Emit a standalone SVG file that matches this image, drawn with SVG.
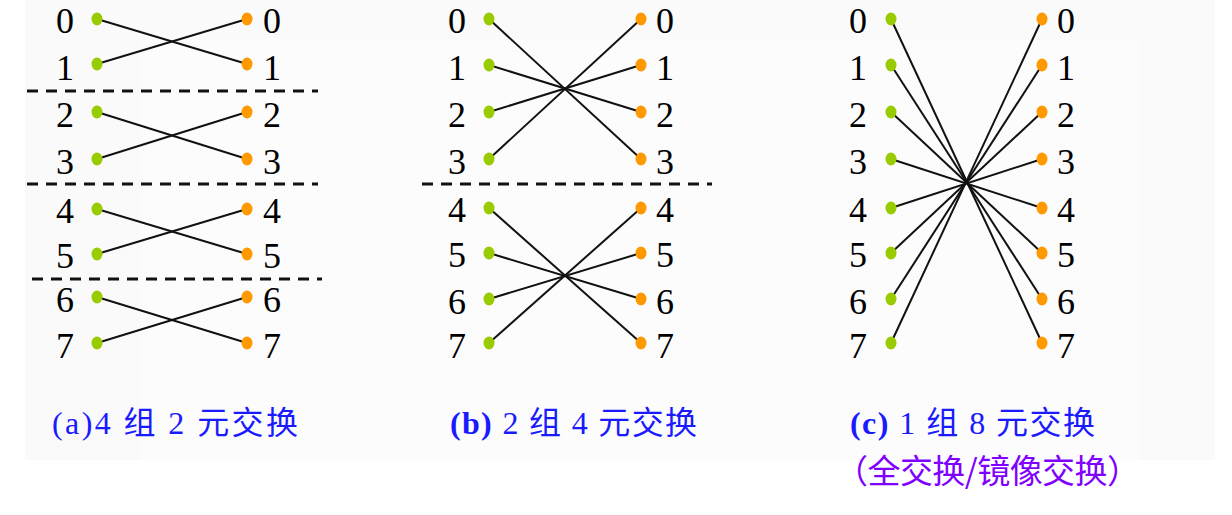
<svg xmlns="http://www.w3.org/2000/svg" width="1232" height="515" viewBox="0 0 1232 515">
<style>
.lbl{font-family:"Liberation Serif",serif;font-size:36px;fill:#000;text-anchor:middle}
.g{fill:#99cc00}
.o{fill:#ff9900}
.ln{stroke:#111;stroke-width:2;fill:none}
.dash{stroke:#111;stroke-width:3;stroke-dasharray:11 8;fill:none}
.cap{font-family:"Liberation Serif","Noto Sans CJK SC",serif;font-size:32px;fill:#1a1aff}
.cap2{font-family:"Noto Sans CJK SC",sans-serif;font-size:33px;fill:#7f00ff}
</style>
<rect x="0" y="0" width="1232" height="515" fill="#fff"/>
<g id="background">
<rect x="25" y="0" width="1190" height="460" fill="#fafafa"/>
<rect x="140" y="40" width="1000" height="420" fill="#fcfcfc"/>
</g>
<g id="connectors">
<line class="ln" x1="97" y1="19" x2="247" y2="64"/>
<line class="ln" x1="97" y1="64" x2="247" y2="19"/>
<line class="ln" x1="97" y1="112" x2="247" y2="159"/>
<line class="ln" x1="97" y1="159" x2="247" y2="112"/>
<line class="ln" x1="97" y1="209" x2="247" y2="254"/>
<line class="ln" x1="97" y1="254" x2="247" y2="209"/>
<line class="ln" x1="97" y1="297" x2="247" y2="343"/>
<line class="ln" x1="97" y1="343" x2="247" y2="297"/>
<line class="ln" x1="489" y1="19" x2="641" y2="159"/>
<line class="ln" x1="489" y1="65" x2="641" y2="112"/>
<line class="ln" x1="489" y1="112" x2="641" y2="65"/>
<line class="ln" x1="489" y1="159" x2="641" y2="19"/>
<line class="ln" x1="489" y1="208" x2="641" y2="343"/>
<line class="ln" x1="489" y1="253" x2="641" y2="299"/>
<line class="ln" x1="489" y1="299" x2="641" y2="253"/>
<line class="ln" x1="489" y1="343" x2="641" y2="208"/>
<line class="ln" x1="891" y1="19" x2="1042" y2="343"/>
<line class="ln" x1="891" y1="65" x2="1042" y2="299"/>
<line class="ln" x1="891" y1="112" x2="1042" y2="253"/>
<line class="ln" x1="891" y1="159" x2="1042" y2="208"/>
<line class="ln" x1="891" y1="208" x2="1042" y2="159"/>
<line class="ln" x1="891" y1="253" x2="1042" y2="112"/>
<line class="ln" x1="891" y1="299" x2="1042" y2="65"/>
<line class="ln" x1="891" y1="343" x2="1042" y2="19"/>
<line class="dash" x1="27" y1="91" x2="318" y2="91"/>
<line class="dash" x1="27" y1="184" x2="318" y2="184"/>
<line class="dash" x1="32" y1="279" x2="322" y2="279"/>
<line class="dash" x1="422" y1="184" x2="712" y2="184"/>
</g>
<g id="panel-a">
<g class="g">
<ellipse cx="97" cy="19" rx="5.5" ry="6.5"/><ellipse cx="97" cy="64" rx="5.5" ry="6.5"/>
<ellipse cx="97" cy="112" rx="5.5" ry="6.5"/><ellipse cx="97" cy="159" rx="5.5" ry="6.5"/>
<ellipse cx="97" cy="209" rx="5.5" ry="6.5"/><ellipse cx="97" cy="254" rx="5.5" ry="6.5"/>
<ellipse cx="97" cy="297" rx="5.5" ry="6.5"/><ellipse cx="97" cy="343" rx="5.5" ry="6.5"/>
</g>
<g class="o">
<ellipse cx="247" cy="19" rx="5.5" ry="6.5"/><ellipse cx="247" cy="64" rx="5.5" ry="6.5"/>
<ellipse cx="247" cy="112" rx="5.5" ry="6.5"/><ellipse cx="247" cy="159" rx="5.5" ry="6.5"/>
<ellipse cx="247" cy="209" rx="5.5" ry="6.5"/><ellipse cx="247" cy="254" rx="5.5" ry="6.5"/>
<ellipse cx="247" cy="297" rx="5.5" ry="6.5"/><ellipse cx="247" cy="343" rx="5.5" ry="6.5"/>
</g>
<text class="lbl" x="65" y="33">0</text><text class="lbl" x="65" y="80">1</text>
<text class="lbl" x="65" y="127">2</text><text class="lbl" x="65" y="174">3</text>
<text class="lbl" x="65" y="223">4</text><text class="lbl" x="65" y="268">5</text>
<text class="lbl" x="65" y="312">6</text><text class="lbl" x="65" y="358">7</text>
<text class="lbl" x="272" y="33">0</text><text class="lbl" x="272" y="80">1</text>
<text class="lbl" x="272" y="127">2</text><text class="lbl" x="272" y="174">3</text>
<text class="lbl" x="272" y="223">4</text><text class="lbl" x="272" y="268">5</text>
<text class="lbl" x="272" y="312">6</text><text class="lbl" x="272" y="358">7</text>
<text class="cap" x="52" y="434" textLength="246" lengthAdjust="spacing">(a)4 组 2 元交换</text>
</g>
<g id="panel-b">
<g class="g">
<ellipse cx="489" cy="19" rx="5.5" ry="6.5"/><ellipse cx="489" cy="65" rx="5.5" ry="6.5"/>
<ellipse cx="489" cy="112" rx="5.5" ry="6.5"/><ellipse cx="489" cy="159" rx="5.5" ry="6.5"/>
<ellipse cx="489" cy="208" rx="5.5" ry="6.5"/><ellipse cx="489" cy="253" rx="5.5" ry="6.5"/>
<ellipse cx="489" cy="299" rx="5.5" ry="6.5"/><ellipse cx="489" cy="343" rx="5.5" ry="6.5"/>
</g>
<g class="o">
<ellipse cx="641" cy="19" rx="5.5" ry="6.5"/><ellipse cx="641" cy="65" rx="5.5" ry="6.5"/>
<ellipse cx="641" cy="112" rx="5.5" ry="6.5"/><ellipse cx="641" cy="159" rx="5.5" ry="6.5"/>
<ellipse cx="641" cy="208" rx="5.5" ry="6.5"/><ellipse cx="641" cy="253" rx="5.5" ry="6.5"/>
<ellipse cx="641" cy="299" rx="5.5" ry="6.5"/><ellipse cx="641" cy="343" rx="5.5" ry="6.5"/>
</g>
<text class="lbl" x="457" y="33">0</text><text class="lbl" x="457" y="80">1</text>
<text class="lbl" x="457" y="127">2</text><text class="lbl" x="457" y="174">3</text>
<text class="lbl" x="457" y="222">4</text><text class="lbl" x="457" y="267">5</text>
<text class="lbl" x="457" y="314">6</text><text class="lbl" x="457" y="358">7</text>
<text class="lbl" x="665" y="33">0</text><text class="lbl" x="665" y="80">1</text>
<text class="lbl" x="665" y="127">2</text><text class="lbl" x="665" y="174">3</text>
<text class="lbl" x="665" y="222">4</text><text class="lbl" x="665" y="267">5</text>
<text class="lbl" x="665" y="314">6</text><text class="lbl" x="665" y="358">7</text>
<text class="cap" x="450" y="434" textLength="247" lengthAdjust="spacing"><tspan font-weight="bold">(b)</tspan> 2 组 4 元交换</text>
</g>
<g id="panel-c">
<g class="g">
<ellipse cx="891" cy="19" rx="5.5" ry="6.5"/><ellipse cx="891" cy="65" rx="5.5" ry="6.5"/>
<ellipse cx="891" cy="112" rx="5.5" ry="6.5"/><ellipse cx="891" cy="159" rx="5.5" ry="6.5"/>
<ellipse cx="891" cy="208" rx="5.5" ry="6.5"/><ellipse cx="891" cy="253" rx="5.5" ry="6.5"/>
<ellipse cx="891" cy="299" rx="5.5" ry="6.5"/><ellipse cx="891" cy="343" rx="5.5" ry="6.5"/>
</g>
<g class="o">
<ellipse cx="1042" cy="19" rx="5.5" ry="6.5"/><ellipse cx="1042" cy="65" rx="5.5" ry="6.5"/>
<ellipse cx="1042" cy="112" rx="5.5" ry="6.5"/><ellipse cx="1042" cy="159" rx="5.5" ry="6.5"/>
<ellipse cx="1042" cy="208" rx="5.5" ry="6.5"/><ellipse cx="1042" cy="253" rx="5.5" ry="6.5"/>
<ellipse cx="1042" cy="299" rx="5.5" ry="6.5"/><ellipse cx="1042" cy="343" rx="5.5" ry="6.5"/>
</g>
<text class="lbl" x="858" y="33">0</text><text class="lbl" x="858" y="80">1</text>
<text class="lbl" x="858" y="127">2</text><text class="lbl" x="858" y="174">3</text>
<text class="lbl" x="858" y="222">4</text><text class="lbl" x="858" y="267">5</text>
<text class="lbl" x="858" y="314">6</text><text class="lbl" x="858" y="358">7</text>
<text class="lbl" x="1066" y="33">0</text><text class="lbl" x="1066" y="80">1</text>
<text class="lbl" x="1066" y="127">2</text><text class="lbl" x="1066" y="174">3</text>
<text class="lbl" x="1066" y="222">4</text><text class="lbl" x="1066" y="267">5</text>
<text class="lbl" x="1066" y="314">6</text><text class="lbl" x="1066" y="358">7</text>
<text class="cap" x="850" y="434" textLength="245" lengthAdjust="spacing"><tspan font-weight="bold">(c)</tspan> 1 组 8 元交换</text>
<text class="cap2" x="835" y="483" textLength="305" lengthAdjust="spacing">（全交换/镜像交换）</text>
</g>
</svg>
